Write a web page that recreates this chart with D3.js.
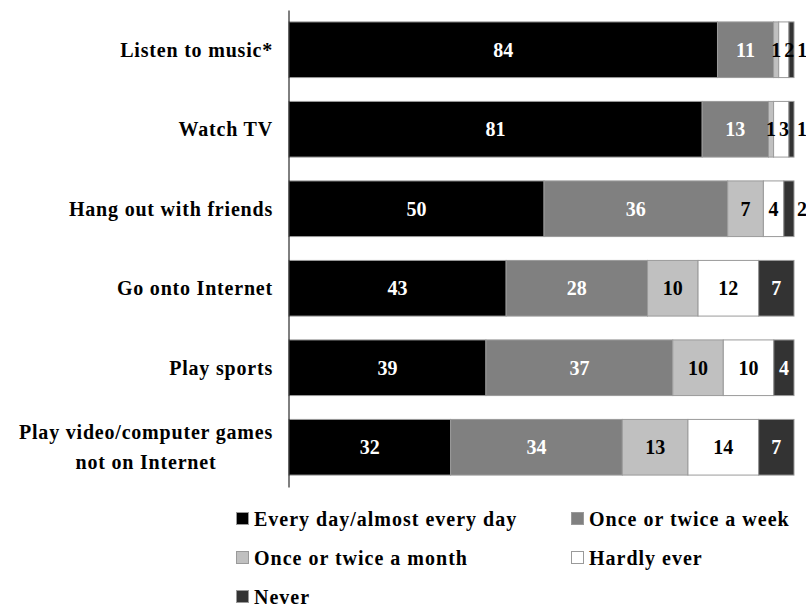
<!DOCTYPE html>
<html>
<head>
<meta charset="utf-8">
<script src="https://cdn.jsdelivr.net/npm/d3@7"></script>
<style>
  html, body { margin: 0; padding: 0; background: #fff; }
  svg { display: block; }
  text { font-family: "Liberation Serif", "Times New Roman", serif; font-weight: bold; }
</style>
</head>
<body>
<svg id="chart" width="806" height="608"></svg>
<script>
const categories = [
  ["Listen to music*"],
  ["Watch TV"],
  ["Hang out with friends"],
  ["Go onto Internet"],
  ["Play sports"],
  ["Play video/computer games", "not on Internet"]
];
const seriesNames = [
  "Every day/almost every day",
  "Once or twice a week",
  "Once or twice a month",
  "Hardly ever",
  "Never"
];
const everyDay    = [84, 81, 50, 43, 39, 32];
const weekly      = [11, 13, 36, 28, 37, 34];
const monthly     = [1, 1, 7, 10, 10, 13];
const hardlyEver  = [2, 3, 4, 12, 10, 14];
const never       = [1, 1, 2, 7, 4, 7];

const seriesValues = [everyDay, weekly, monthly, hardlyEver, never];
const fills = ["#000000", "#808080", "#c0c0c0", "#ffffff", "#333333"];
const labelColors = ["#ffffff", "#ffffff", "#000000", "#000000", "#ffffff"];

const svg = d3.select("#chart");

const plotLeft = 289, plotRight = 794, plotTop = 10, plotBottom = 487;

const keys = categories.map(c => c.join(" "));
const y = d3.scaleBand().domain(keys).range([plotTop, plotBottom])
  .paddingInner(0.3).paddingOuter(0.15);
const x = d3.scaleLinear().domain([0, 1]).range([plotLeft, plotRight]);

// build stacked (normalized to 100%) rows
const rows = keys.map((k, i) => {
  const vals = seriesValues.map(s => s[i]);
  const total = d3.sum(vals);
  let cum = 0;
  return vals.map((v, j) => {
    const s = { key: k, series: j, value: v, x0: cum / total, x1: (cum + v) / total };
    cum += v;
    return s;
  });
});

const g = svg.append("g");
const rowG = g.selectAll("g.row").data(rows).join("g").attr("class", "row");

rowG.selectAll("rect").data(d => d).join("rect")
  .attr("x", d => x(d.x0))
  .attr("y", d => y(d.key))
  .attr("width", d => x(d.x1) - x(d.x0))
  .attr("height", y.bandwidth())
  .attr("fill", d => fills[d.series])
  .attr("stroke", "#9a9a9a")
  .attr("stroke-width", 1);

const lastS = seriesValues.length - 1;
rowG.each(function(segs) {
  const grp = d3.select(this);
  let prevRight = -Infinity;
  segs.forEach(d => {
    const small = d.value <= 2;
    const t = grp.append("text")
      .attr("y", y(d.key) + y.bandwidth() / 2)
      .attr("dy", "0.35em")
      .attr("text-anchor", "middle")
      .attr("font-size", 20)
      .attr("fill", small ? "#000000" : labelColors[d.series])
      .text(d.value);
    const w = t.node().getComputedTextLength();
    let cx = (x(d.x0) + x(d.x1)) / 2;
    if (small && d.series === lastS) cx = x(d.x1) + 3 + w / 2;
    if (cx - w / 2 < prevRight + 3) cx = prevRight + 3 + w / 2;
    t.attr("x", cx);
    prevRight = cx + w / 2;
  });
});

// axis line (vertical category axis)
const yAxis = d3.axisLeft(y).tickSize(0).tickFormat("");
const axG = svg.append("g").attr("transform", `translate(${plotLeft - 0.5},0)`).call(yAxis);
axG.select(".domain").attr("stroke", "#000").attr("stroke-width", 1);

// category labels
const labelRight = 273;
const catFont = 20, catSpacing = 0.8;
categories.forEach((lines, i) => {
  const cy = y(keys[i]) + y.bandwidth() / 2;
  const t = svg.append("text")
    .attr("font-size", catFont)
    .attr("letter-spacing", catSpacing)
    .attr("fill", "#000");
  if (lines.length === 1) {
    t.attr("x", labelRight).attr("y", cy).attr("dy", "0.35em")
      .attr("text-anchor", "end").text(lines[0]);
  } else {
    const probe = svg.append("text").attr("font-size", catFont)
      .attr("letter-spacing", catSpacing).text(lines[0]);
    const w = probe.node().getComputedTextLength();
    probe.remove();
    const cx = labelRight - w / 2;
    const lh = 30;
    lines.forEach((ln, k) => {
      t.append("tspan")
        .attr("x", cx)
        .attr("y", cy + (k - (lines.length - 1) / 2) * lh)
        .attr("dy", "0.35em")
        .attr("text-anchor", "middle")
        .text(ln);
    });
  }
});

// legend
const legendCols = [236, 571];
const legendRows = [519, 558, 597];
const legend = svg.append("g");
seriesNames.forEach((name, i) => {
  const cx = legendCols[i % 2];
  const cy = legendRows[Math.floor(i / 2)];
  legend.append("rect")
    .attr("x", cx + 0.5).attr("y", cy - 6.5)
    .attr("width", 12).attr("height", 12)
    .attr("fill", fills[i])
    .attr("stroke", "#9a9a9a").attr("stroke-width", 1);
  legend.append("text")
    .attr("x", cx + 18).attr("y", cy).attr("dy", "0.35em")
    .attr("font-size", 20).attr("letter-spacing", 1)
    .attr("fill", "#000")
    .text(name);
});
</script>
</body>
</html>
